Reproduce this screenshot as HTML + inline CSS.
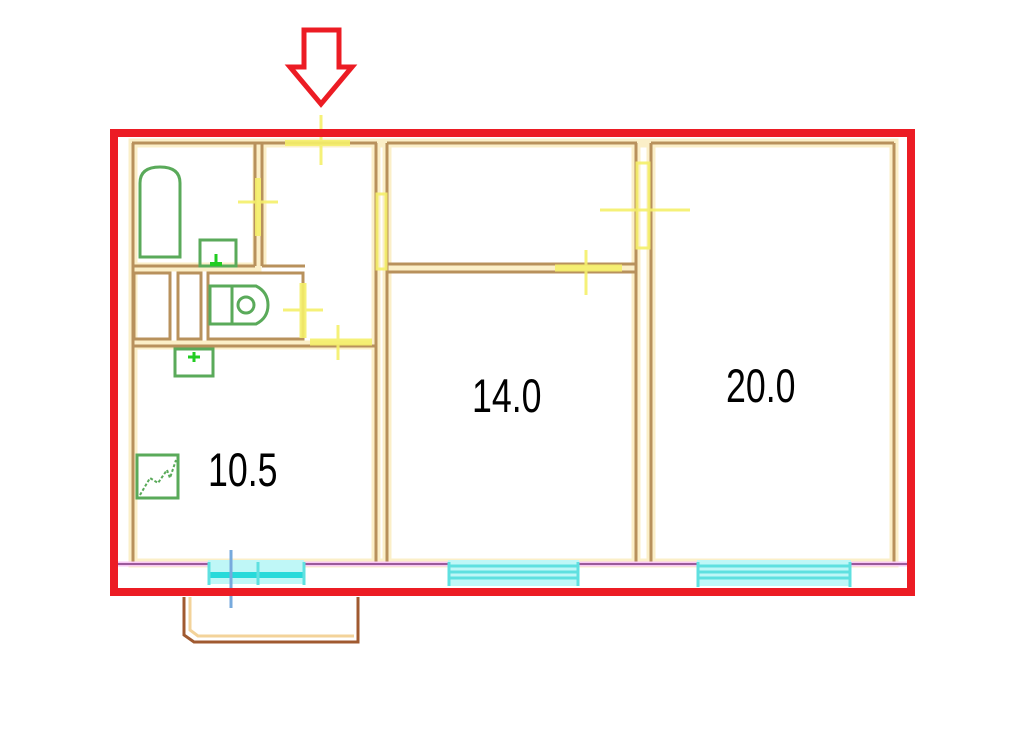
<!DOCTYPE html>
<html><head><meta charset="utf-8"><style>
html,body{margin:0;padding:0;background:#fff;}
svg{display:block;}
text{font-family:"Liberation Sans",sans-serif;}
</style></head><body>
<svg width="1024" height="735" viewBox="0 0 1024 735" xmlns="http://www.w3.org/2000/svg">
<rect width="1024" height="735" fill="#fff"/>
<!-- wall halo -->
<g fill="none" stroke="#fbefc8" stroke-width="9">
<rect x="133" y="143" width="761" height="420"/>
<rect x="133" y="143" width="124" height="124"/>
<line x1="262" y1="143" x2="376" y2="143"/><line x1="262" y1="143" x2="262" y2="267"/>
<line x1="376" y1="143" x2="376" y2="563"/><line x1="387" y1="143" x2="387" y2="563"/>
<line x1="387" y1="267" x2="636" y2="267"/><line x1="636" y1="143" x2="636" y2="563"/><line x1="651" y1="143" x2="651" y2="563"/>
<line x1="133" y1="345" x2="376" y2="345"/>
</g>
<g fill="none" stroke="#b8915c" stroke-width="3">
<line x1="132" y1="143" x2="377" y2="143"/><line x1="387" y1="143" x2="637" y2="143"/><line x1="651" y1="143" x2="894" y2="143"/>
<line x1="133" y1="143" x2="133" y2="563"/>
<line x1="894" y1="143" x2="894" y2="563"/>
<line x1="255" y1="143" x2="255" y2="266"/><line x1="262" y1="143" x2="262" y2="266"/>
<line x1="133" y1="266" x2="255" y2="266"/><line x1="262" y1="266" x2="305" y2="266"/>
<line x1="376" y1="143" x2="376" y2="563"/><line x1="387" y1="143" x2="387" y2="563"/>
<line x1="387" y1="264" x2="636" y2="264"/><line x1="387" y1="272" x2="636" y2="272"/>
<line x1="636" y1="143" x2="636" y2="563"/><line x1="651" y1="143" x2="651" y2="563"/>
<rect x="134" y="273" width="36" height="66"/>
<rect x="178" y="273" width="23" height="66"/>
<rect x="208" y="273" width="95" height="66"/>
<line x1="133" y1="346" x2="376" y2="346"/>
</g>
<!-- bottom wall line -->
<line x1="118" y1="564" x2="908" y2="564" stroke="#f9c8f5" stroke-width="5"/>
<line x1="118" y1="564" x2="908" y2="564" stroke="#9b5a9a" stroke-width="2"/>
<!-- windows -->
<g stroke="#5fe0e0" stroke-width="3" fill="none">
<rect x="208" y="560" width="96" height="24" fill="#bff7f7" stroke="none"/>
<line x1="209" y1="575" x2="303" y2="575" stroke-width="6" stroke="#28dada"/>
<line x1="209" y1="562" x2="209" y2="585"/><line x1="304" y1="562" x2="304" y2="585"/>
<line x1="231" y1="550" x2="231" y2="608" stroke="#7ad"/><line x1="258" y1="562" x2="258" y2="585"/>
<rect x="448" y="560" width="131" height="26" fill="#bff7f7" stroke="none"/>
<line x1="449" y1="566" x2="578" y2="566"/><line x1="449" y1="572" x2="578" y2="572"/><line x1="449" y1="578" x2="578" y2="578"/>
<line x1="449" y1="562" x2="449" y2="586"/><line x1="578" y1="562" x2="578" y2="586"/>
<rect x="697" y="560" width="154" height="26" fill="#bff7f7" stroke="none"/>
<line x1="698" y1="566" x2="850" y2="566"/><line x1="698" y1="572" x2="850" y2="572"/><line x1="698" y1="578" x2="850" y2="578"/>
<line x1="698" y1="562" x2="698" y2="587"/><line x1="850" y1="562" x2="850" y2="587"/>
</g>
<!-- door marks (yellow) -->
<g stroke="#f5f06a" fill="none" stroke-width="5" opacity="0.9">
<line x1="285" y1="143" x2="350" y2="143" stroke-width="6"/><line x1="321" y1="115" x2="321" y2="165" stroke-width="3"/>
<line x1="258" y1="178" x2="258" y2="236" stroke-width="6"/><line x1="238" y1="202" x2="278" y2="202" stroke-width="3"/>
<rect x="377" y="194" width="9" height="75" stroke-width="3"/>
<rect x="637" y="163" width="12" height="85" stroke-width="3"/><line x1="600" y1="210" x2="690" y2="210" stroke-width="3"/>
<line x1="555" y1="268" x2="622" y2="268" stroke-width="7"/><line x1="586" y1="250" x2="586" y2="295" stroke-width="3"/>
<line x1="303" y1="283" x2="303" y2="338" stroke-width="7"/><line x1="283" y1="310" x2="323" y2="310" stroke-width="3"/>
<line x1="310" y1="342" x2="372" y2="342" stroke-width="7"/><line x1="338" y1="325" x2="338" y2="360" stroke-width="3"/>
</g>
<!-- fixtures green -->
<g stroke="#5aaa5a" stroke-width="3" fill="none">
<path d="M140 257 V183 Q140 167 160 167 Q180 167 180 183 V257 Z"/>
<rect x="200" y="240" width="36" height="26"/>
<line x1="216" y1="254" x2="216" y2="264" stroke="#2c2"/><line x1="210" y1="264" x2="222" y2="264" stroke="#2c2" stroke-width="4"/>
<rect x="210" y="286" width="22" height="38"/>
<path d="M232 286 H256 Q268 292 268 305 Q268 318 256 324 H232"/>
<circle cx="246" cy="305" r="8"/>
<rect x="175" y="349" width="38" height="27"/>
<line x1="194" y1="352" x2="194" y2="362" stroke="#2c2"/><line x1="188" y1="357" x2="200" y2="357" stroke="#2c2"/>
<rect x="137" y="455" width="41" height="43"/>
<path d="M140 495 L150 478 L158 483 L167 470 L170 478 L176 460" stroke-width="2" stroke-dasharray="3 2"/>
</g>
<!-- balcony -->
<path d="M184 597 V635 L194 642 H358 V597" fill="none" stroke="#a05a30" stroke-width="3"/>
<path d="M190 597 V630 L198 636 H354" fill="none" stroke="#f3d39a" stroke-width="3"/>
<!-- red frame -->
<rect x="114" y="133" width="797" height="459" fill="none" stroke="#ec1c24" stroke-width="8"/>
<!-- arrow -->
<path d="M304 30 H339 V67 H352 L321 104 L290 67 H304 Z" fill="none" stroke="#ec1c24" stroke-width="5" stroke-linejoin="miter"/>
<!-- labels -->
<text x="0" y="0" font-size="47" transform="translate(208,486) scale(0.76,1)" fill="#000">10.5</text>
<text x="0" y="0" font-size="47" transform="translate(472,412) scale(0.76,1)" fill="#000">14.0</text>
<text x="0" y="0" font-size="47" transform="translate(726,402) scale(0.76,1)" fill="#000">20.0</text>
</svg>
</body></html>
